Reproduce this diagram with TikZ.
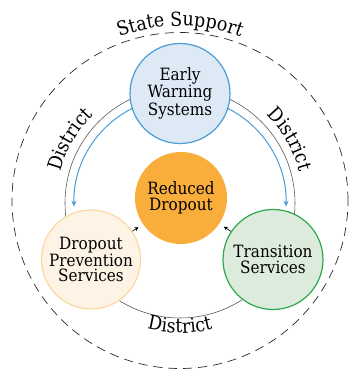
\documentclass[tikz,border=0pt]{standalone}
\usepackage{fontspec}
\setmainfont{DejaVu Serif Condensed}
\usetikzlibrary{arrows.meta,decorations.text}

\definecolor{warnblue}{HTML}{4A9CD6}
\definecolor{warnfill}{HTML}{DEE9F6}
\definecolor{dropoutorange}{HTML}{F9AE3C}
\definecolor{prevline}{HTML}{FCD8A0}
\definecolor{prevfill}{HTML}{FEF4E6}
\definecolor{transgreen}{HTML}{2DA84A}
\definecolor{transfill}{HTML}{DDEBDC}
\definecolor{ringgrey}{gray}{0.35}

\tikzset{
    stage/.style={circle,line width=1.2pt,align=center,inner sep=0pt,
        font=\fontsize{17}{15.5}\selectfont},
    bluearc/.style={warnblue,line width=1pt,-{Stealth[length=6pt,width=5pt]}},
    feed/.style={line width=0.6pt,-{Stealth[length=4pt,width=4pt]},shorten >=5pt},
}

% curved label: centre, radius, start angle, end angle, text
\newcommand{\arclabel}[5]{
    \path[decorate,decoration={text along path,text align=center,
            text={|\fontsize{19.5}{19.5}\selectfont|#5}}]
        ([shift={(#3:#2)}]#1) arc[start angle=#3,end angle=#4,radius=#2];
}

\begin{document}
\begin{tikzpicture}[x=1bp,y=1bp]
        \useasboundingbox (0,0) rectangle (352,374);
        \coordinate (ring) at (180,171);
        \coordinate (state) at (180,173.5);

        % state boundary and district ring
        \draw[dash pattern=on 9bp off 6bp,line width=0.7pt,black!85] (state) circle[radius=168];
        \draw[ringgrey,line width=0.6pt] (ring) circle[radius=115];

        % early warning feeding both services
        \draw[bluearc] ([shift={(115:106)}]ring) arc[start angle=115,end angle=182,radius=106];
        \draw[bluearc] ([shift={(65:106)}]ring) arc[start angle=65,end angle=-2,radius=106];

        \node[stage,draw=warnblue,fill=warnfill,minimum size=100bp] (ews) at (180,280.5) {Early\\Warning\\Systems};
        \node[stage,fill=dropoutorange,minimum size=92bp] (rd) at (181,176) {Reduced\\Dropout};
        \node[stage,draw=prevline,fill=prevfill,minimum size=99bp] (dps) at (91,114.5) {Dropout\\Prevention\\Services};
        \node[stage,draw=transgreen,fill=transfill,minimum size=100bp] (ts) at (273,114.5) {Transition\\Services};

        \draw[feed] (dps) -- (rd);
        \draw[feed] (ts) -- (rd);

        \arclabel{state}{174.5}{128}{52}{State Support}
        \arclabel{ring}{123.5}{175}{125}{District}
        \arclabel{ring}{123.5}{55}{5}{District}
        \arclabel{ring}{130}{245}{295}{District}
    \end{tikzpicture}
\end{document}
